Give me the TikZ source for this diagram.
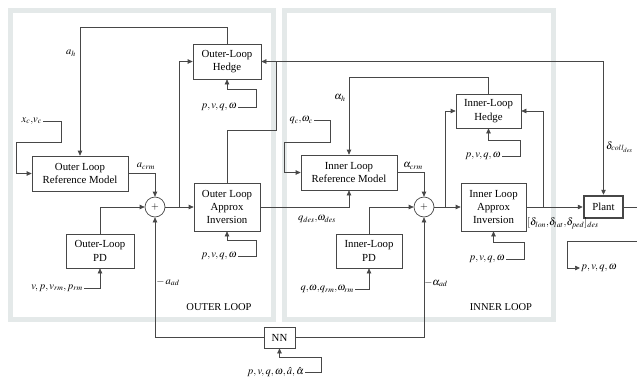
\documentclass[tikz,border=0pt]{standalone}
\usepackage{mathptmx}
\usepackage{fontspec}
\setmainfont{Liberation Serif}
\usetikzlibrary{arrows.meta,positioning,calc}
\definecolor{loopGrey}{HTML}{E4E9E9}
\definecolor{wireGrey}{HTML}{474747}

\begin{document}
\begin{tikzpicture}[x=1pt,y=-1pt,>={Triangle[length=5pt,width=4.5pt]},
  block/.style={draw=wireGrey,line width=0.7pt,fill=white,align=center,font=\fontsize{10.8}{13.4}\selectfont,inner sep=1pt},
  sumnode/.style={draw=wireGrey,line width=0.7pt,circle,minimum size=20pt,inner sep=0pt,fill=white},
  wire/.style={draw=wireGrey,line width=0.7pt},
  lbl/.style={font=\fontsize{10.5}{12}\selectfont,inner sep=1pt},
  loopBox/.style={draw=loopGrey,line width=5pt}]
\useasboundingbox (0,0) rectangle (637,378);

% loop panels
\draw[loopBox] (10.5,10.5) rectangle (273,319.5);
\draw[loopBox] (284.5,10.5) rectangle (553,319.5);
\node[lbl] (outerTag) at (219,307) {OUTER LOOP};
\node[lbl] (innerTag) at (501,307) {INNER LOOP};

% outer loop blocks
\node[block,minimum width=68pt,minimum height=35pt] (oHedge) at (227,61.5) {Outer-Loop\\Hedge};
\node[block,minimum width=96pt,minimum height=35pt] (oRef) at (80,173.5) {Outer Loop\\Reference Model};
\node[sumnode] (oSum) at (155,207) {$+$};
\node[block,minimum width=66pt,minimum height=48pt] (oInv) at (227,207) {Outer Loop\\Approx\\Inversion};
\node[block,minimum width=68pt,minimum height=34pt] (oPD) at (100,251) {Outer-Loop\\PD};
\node[block,minimum width=31pt,minimum height=21pt] (nn) at (279.5,337.5) {NN};

% inner loop blocks
\node[block,minimum width=65pt,minimum height=34pt] (iHedge) at (488.5,111) {Inner-Loop\\Hedge};
\node[block,minimum width=96pt,minimum height=35pt] (iRef) at (349,172.5) {Inner Loop\\Reference Model};
\node[sumnode] (iSum) at (424,207) {$+$};
\node[block,minimum width=65pt,minimum height=48pt] (iInv) at (493.5,207) {Inner Loop\\Approx\\Inversion};
\node[block,minimum width=66pt,minimum height=34pt] (iPD) at (369,251) {Inner-Loop\\PD};
\node[block,line width=2.5pt,minimum width=39pt,minimum height=22pt] (plant) at (603.5,207) {Plant};

% inputs
\node[lbl,anchor=east] (xcIn) at (43,121) {$x_c{,}v_c$};
\node[lbl,anchor=east] (qcIn) at (314,120) {$q_c{,}\omega_c$};
\node[lbl,anchor=east] (oHedgeIn) at (238,107) {$p,v,q,\omega$};
\node[lbl,anchor=east] (oInvIn) at (238,256) {$p,v,q,\omega$};
\node[lbl,anchor=east] (oPDIn) at (84,288) {$v,p,v_{rm},p_{rm}$};
\node[lbl,anchor=east] (iHedgeIn) at (502,156) {$p,v,q,\omega$};
\node[lbl,anchor=east] (iInvIn) at (506,259) {$p,v,q,\omega$};
\node[lbl,anchor=east] (iPDIn) at (355,289) {$q{,}\omega{,}q_{rm}{,}\omega_{rm}$};
\node[lbl,anchor=east] (nnIn) at (305,372) {$p,v,q,\omega,\hat{a},\hat{\alpha}$};
\node[lbl,anchor=west] (fbOut) at (580,268) {$p,v,q,\omega$};

% outer loop wiring
\draw[wire,->] (xcIn.east) -- ++(18,0) |- (16,142) |- (oRef.west);
\draw[wire,->] (oHedge.north) -- ++(0,-16) -| (oRef.north);
\node[lbl] (ahTag) at (71,53) {$a_h$};
\draw[wire,->] (oRef.east) -| (oSum.north);
\node[lbl] (acrmTag) at (146,166) {$a_{crm}$};
\draw[wire,->] (oPD.north) |- (oSum.west);
\draw[wire,->] (oSum.east) -- (oInv.west);
\coordinate (oSplit) at ($(oSum.east)!0.5!(oInv.west)$);
\draw[wire,->] (oSplit) |- (oHedge.west);
\coordinate (collTap) at (276,61.5);
\draw[wire] (oInv.north) -- ++(0,-52) -| (collTap);
\draw[wire,->] (collTap) -- (oHedge.east);
\draw[wire,->] (collTap) -| (plant.north);
\node[lbl,anchor=west] (collTag) at (605,147) {$\delta_{coll_{des}}$};
\draw[wire,->] (oHedgeIn.east) -- ++(18,0) -- ++(0,-18) -| (oHedge.south);
\draw[wire,->] (oInvIn.east) -- ++(18,0) -- ++(0,-16) -| (oInv.south);
\draw[wire,->] (oPDIn.east) -| (oPD.south);

% inner loop wiring
\draw[wire,->] (oInv.east) -| (iRef.south);
\node[lbl] (qdesTag) at (317,219) {$q_{des}{,}\omega_{des}$};
\draw[wire,->] (qcIn.east) -- ++(16,0) |- (284,142) |- (iRef.west);
\draw[wire,->] (iHedge.north) -- ++(0,-16) -| (iRef.north);
\node[lbl] (alphahTag) at (340,98) {$\alpha_h$};
\draw[wire,->] (iRef.east) -| (iSum.north);
\node[lbl] (alphacrmTag) at (413,166) {$\alpha_{crm}$};
\draw[wire,->] (iPD.north) |- (iSum.west);
\draw[wire,->] (iSum.east) -- (iInv.west);
\coordinate (iSplit) at ($(iSum.east)+(11,0)$);
\draw[wire,->] (iSplit) |- (iHedge.west);
\draw[wire,->] (iInv.east) -- (plant.west);
\coordinate (pSplit) at ($(iInv.east)+(17,0)$);
\draw[wire,->] (pSplit) |- (iHedge.east);
\node[lbl,anchor=west] (deltaTag) at (526,223) {$[\delta_{lon}{,}\delta_{lat}{,}\delta_{ped}]_{des}$};
\draw[wire,->] (iHedgeIn.east) -- ++(18,0) -- ++(0,-16) -| (iHedge.south);
\draw[wire,->] (iInvIn.east) -- ++(18,0) -- ++(0,-17) -| (iInv.south);
\draw[wire,->] (iPDIn.east) -| (iPD.south);

% plant output and feedback
\coordinate (plantOut) at (637,207);
\coordinate (fbIn) at (637,241);
\draw[wire] (plant.east) -- (plantOut);
\draw[wire,->] (fbIn) -- ++(-70,0) |- (fbOut.west);

% neural network
\draw[wire,->] (nn.west) -| (oSum.south);
\node[lbl] (aadTag) at (168,282) {$-\,a_{ad}$};
\draw[wire,->] (nn.east) -| (iSum.south);
\node[lbl] (alphaadTag) at (436,283) {$-\alpha_{ad}$};
\draw[wire,->] (nnIn.east) -- ++(16,0) -- ++(0,-15) -| (nn.south);
\end{tikzpicture}
\end{document}
